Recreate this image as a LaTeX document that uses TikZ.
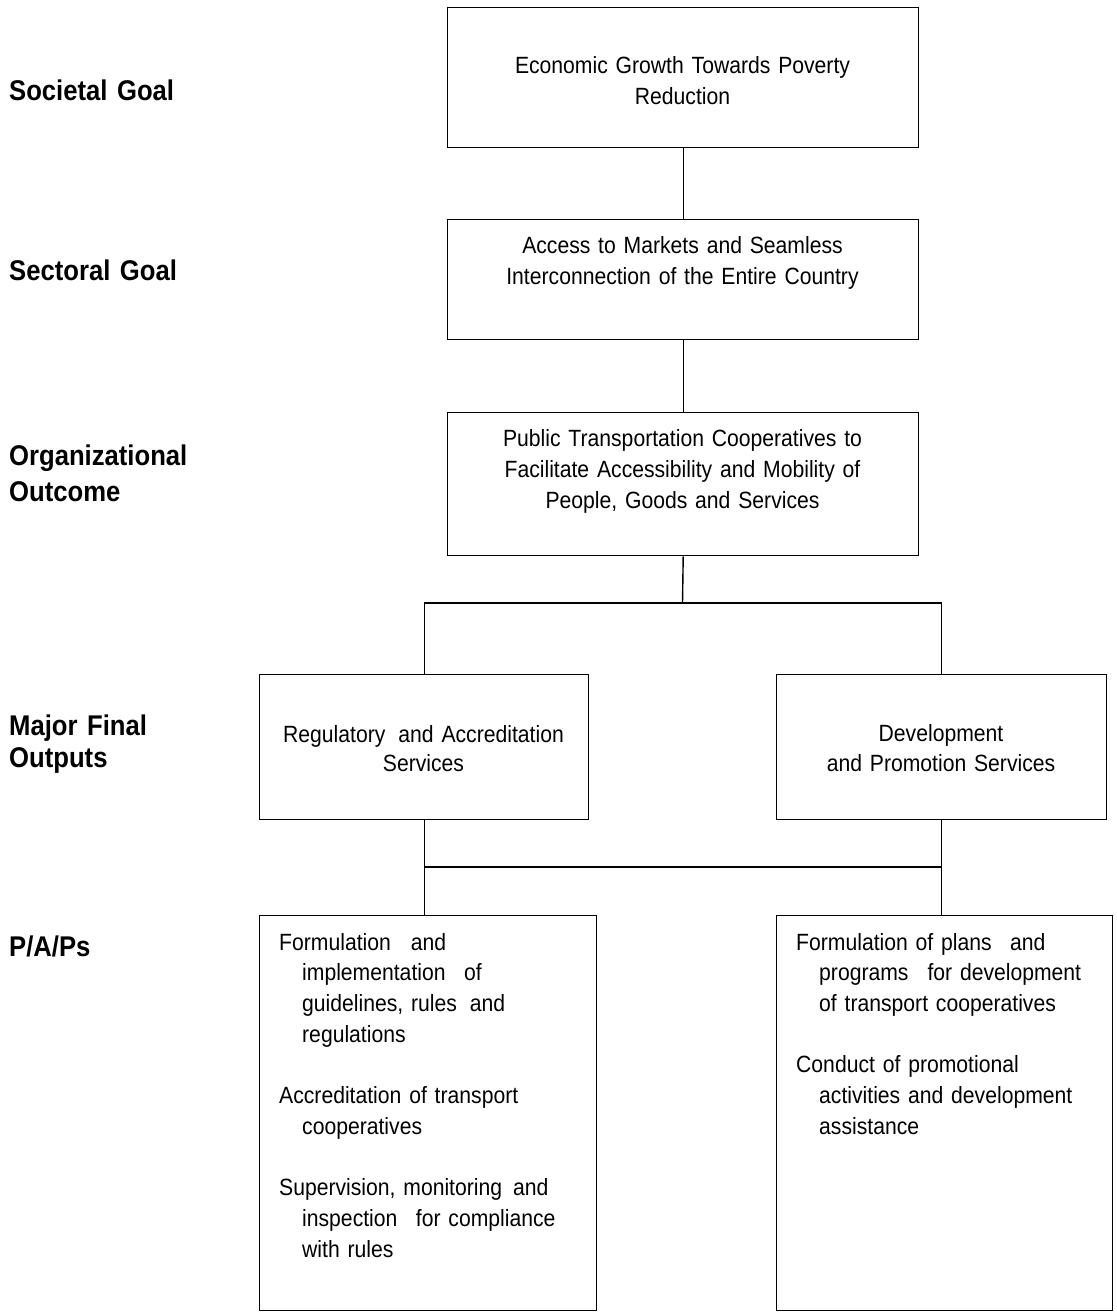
\documentclass[tikz,border=0pt]{standalone}
\usepackage{fontspec}
\setmainfont{Liberation Sans}[FakeStretch=0.9]
\tikzset{
  box/.style={draw, line width=1.4pt, inner sep=0pt, anchor=north west},
  link/.style={line width=1.4pt},
  boxtxt/.style={font=\fontsize{23.5}{31}\selectfont, inner sep=0pt, align=center, text width=460pt, anchor=base},
  listtxt/.style={font=\fontsize{23.5}{30.7}\selectfont, inner sep=0pt, align=left, text width=330pt, anchor=base west},
  lvl/.style={font=\bfseries\fontsize{28.5}{34}\selectfont, inner sep=0pt, align=left, text width=260pt, anchor=base west}
}
\begin{document}
\begin{tikzpicture}[x=1pt,y=-1pt]
\fill[white] (0,0) rectangle (1116,1313);
\useasboundingbox (0,0) rectangle (1116,1313);

% boxes
\node[box, minimum width=471pt, minimum height=140pt] (b1) at (447,7) {};
\node[box, minimum width=471pt, minimum height=120pt] (b2) at (447,219) {};
\node[box, minimum width=471pt, minimum height=143pt] (b3) at (447,412) {};
\node[box, minimum width=329pt, minimum height=145pt] (b4l) at (259,674) {};
\node[box, minimum width=330pt, minimum height=145pt] (b4r) at (776,674) {};
\node[box, minimum width=337pt, minimum height=395pt] (b5l) at (259,915) {};
\node[box, minimum width=336pt, minimum height=395pt] (b5r) at (776,915) {};

% connectors
\coordinate (j1) at (682.5,603);
\coordinate (j2) at (682,867);
\draw[link] (b1.south) -- (b2.north);
\draw[link] (b2.south) -- (b3.north);
\draw[link] (b3.south) -- (j1);
\draw[link] (b4l.north) |- (j1) -| (b4r.north);
\draw[link] (b4l.south) |- (j2) -| (b4r.south);
\draw[link] (b4l.south |- j2) -- (b4l.south |- b5l.north);
\draw[link] (b4r.south |- j2) -- (b4r.south |- b5r.north);

% level labels
\node[lvl] (l1) at (9,101) {Societal Goal};
\node[lvl] (l2) at (9,281) {Sectoral Goal};
\node[lvl] (l3) at (9,465) {Organizational\\[2pt]Outcome};
\node[lvl] (l4) at (9,735) {Major Final\\[-2pt]Outputs};
\node[lvl] (l5) at (9,956) {P/A/Ps};

% box texts
\node[boxtxt] (t1) at (682.5,74) {Economic Growth Towards Poverty\\Reduction};
\node[boxtxt] (t2) at (682.5,254) {Access to Markets and Seamless\\Interconnection of the Entire Country};
\node[boxtxt] (t3) at (682.5,446) {Public Transportation Cooperatives to\\Facilitate Accessibility and Mobility of\\People, Goods and Services};
\node[boxtxt, font=\fontsize{23.5}{29}\selectfont] (t4l) at (423.5,742) {Regulatory\hspace{13pt}and Accreditation\\Services};
\node[boxtxt, font=\fontsize{23.5}{30}\selectfont] (t4r) at (941,741) {Development\\and Promotion Services};

\node[listtxt] (t5l) at (279,950) {Formulation\hspace{20pt}and\\
\hspace*{23pt}implementation\hspace{18.5pt}of\\
\hspace*{23pt}guidelines, rules\hspace{13pt}and\\
\hspace*{23pt}regulations\\[30.7pt]
Accreditation of transport\\
\hspace*{23pt}cooperatives\\[30.7pt]
Supervision, monitoring\hspace{11pt}and\\
\hspace*{23pt}inspection\hspace{18.5pt}for compliance\\
\hspace*{23pt}with rules};

\node[listtxt] (t5r) at (796,950) {Formulation of plans\hspace{18.5pt}and\\
\hspace*{23pt}programs\hspace{19pt}for development\\
\hspace*{23pt}of transport cooperatives\\[30.7pt]
Conduct of promotional\\
\hspace*{23pt}activities and development\\
\hspace*{23pt}assistance};
\end{tikzpicture}
\end{document}
